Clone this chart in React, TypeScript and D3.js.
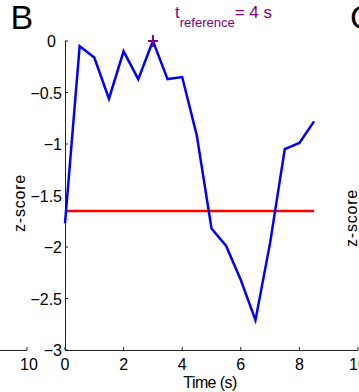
import React, {useEffect, useRef} from 'react';
import * as d3 from 'd3';

const times = [0, 0.5, 1, 1.5, 2, 2.5, 3, 3.5, 4, 4.5, 5, 5.5, 6, 6.5, 7, 7.5, 8, 8.5];
const zScores = [-1.77, -0.05, -0.16, -0.56, -0.1, -0.37, 0, -0.37, -0.35, -0.92, -1.82, -1.99, -2.32, -2.71, -1.96, -1.05, -0.99, -0.78];
const threshold = -1.65;
const thresholdSpan = [0, 8.5];
const reference = {t: 3, z: 0};
const xTicks = [0, 2, 4, 6, 8, 10];
const yTicks = [0, -0.5, -1, -1.5, -2, -2.5, -3];

const W = 359;
const H = 392;
const FONT = 'Liberation Sans, Arial, sans-serif';

const App: React.FC = () => {
  const ref = useRef<SVGSVGElement | null>(null);

  useEffect(() => {
    if (!ref.current) return;
    const svg = d3.select(ref.current);
    svg.selectAll('*').remove();
    svg.style('font-family', FONT);

    const x = d3.scaleLinear().domain([0, 10]).range([65, 358]);
    const y = d3.scaleLinear().domain([-3, 0]).range([350, 41]);
    const axisColor = '#222';

    // panel letters (C belongs to the next panel, cut off)
    svg.append('text').attr('x', 10.5).attr('y', 29).attr('font-size', 34).text('B');
    svg.append('text').attr('x', 350).attr('y', 29).attr('font-size', 34).text('C');

    // left remnant of previous panel's x axis
    svg.append('line').attr('x1', 0).attr('x2', 27).attr('y1', 350.5).attr('y2', 350.5)
      .attr('stroke', axisColor);
    svg.append('line').attr('x1', 27).attr('x2', 27).attr('y1', 350).attr('y2', 347)
      .attr('stroke', axisColor);
    svg.append('text').attr('x', 29).attr('y', 370).attr('font-size', 16)
      .attr('text-anchor', 'middle').text('10');

    // axes
    svg.append('line').attr('x1', 65.5).attr('x2', 65.5).attr('y1', y(0)).attr('y2', y(-3))
      .attr('stroke', axisColor);
    svg.append('line').attr('x1', 65).attr('x2', x(10)).attr('y1', 350.5).attr('y2', 350.5)
      .attr('stroke', axisColor);

    yTicks.forEach((v) => {
      svg.append('line').attr('x1', 65).attr('x2', 68).attr('y1', y(v)).attr('y2', y(v))
        .attr('stroke', axisColor);
      svg.append('text').attr('x', v === 0 ? 56 : 62).attr('y', y(v) + 6)
        .attr('font-size', 16).attr('text-anchor', 'end')
        .text(v === 0 ? '0' : '\u2212' + Math.abs(v));
    });

    xTicks.forEach((v) => {
      svg.append('line').attr('x1', x(v)).attr('x2', x(v)).attr('y1', 350).attr('y2', 347)
        .attr('stroke', axisColor);
      svg.append('text').attr('x', x(v)).attr('y', 370).attr('font-size', 16)
        .attr('text-anchor', 'middle').text(String(v));
    });

    svg.append('text').attr('x', 210).attr('y', 388).attr('font-size', 16)
      .attr('text-anchor', 'middle').attr('letter-spacing', -0.6).text('Time (s)');

    svg.append('text').attr('transform', `translate(25,203) rotate(-90)`)
      .attr('font-size', 16).attr('letter-spacing', 0.8).attr('text-anchor', 'middle')
      .text('z-score');
    svg.append('text').attr('transform', `translate(357,247) rotate(-90)`)
      .attr('font-size', 16).attr('letter-spacing', 0.8).attr('text-anchor', 'start')
      .text('z-score');

    // threshold
    svg.append('line').attr('x1', x(thresholdSpan[0])).attr('x2', x(thresholdSpan[1]))
      .attr('y1', y(threshold)).attr('y2', y(threshold))
      .attr('stroke', '#ff0000').attr('stroke-width', 2.5);

    // series
    const line = d3.line<number>().x((_, i) => x(times[i])).y((d) => y(d));
    svg.append('path').datum(zScores).attr('d', line).attr('fill', 'none')
      .attr('stroke', '#0000ff').attr('stroke-width', 2.5).attr('stroke-linejoin', 'miter');

    // reference marker
    const mx = x(reference.t);
    const my = y(reference.z);
    svg.append('path').attr('d', `M${mx - 5},${my}H${mx + 5}M${mx},${my - 6}V${my + 6}`)
      .attr('stroke', '#800080').attr('stroke-width', 2);

    const title = svg.append('text').attr('x', 175).attr('y', 18).attr('fill', '#800080')
      .attr('font-size', 17);
    title.append('tspan').text('t');
    title.append('tspan').attr('dy', 9).attr('font-size', 13).text('reference');
    title.append('tspan').attr('dy', -9).text('= 4 s');
  }, []);

  return <svg ref={ref} width={W} height={H} style={{position: 'absolute', left: 0, top: 0}} />;
};

export default App;
